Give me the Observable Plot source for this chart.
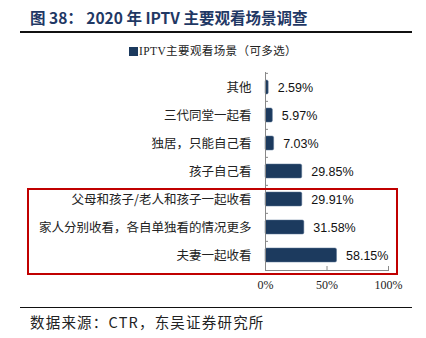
<!DOCTYPE html>
<html>
<head>
<meta charset="utf-8">
<script src="https://cdn.jsdelivr.net/npm/d3@7"></script>
<script src="https://cdn.jsdelivr.net/npm/@observablehq/plot@0.6"></script>
<style>
  html, body { margin: 0; padding: 0; background: #fff; }
  body { width: 426px; height: 338px; position: relative; overflow: hidden; font-family: "Noto Sans CJK SC", sans-serif; }
  .abs { position: absolute; }
  #title { left: 30px; top: 6px; font-size: 15.5px; font-weight: bold; color: #1f3864; white-space: nowrap; line-height: 22px; }
  #rule1 { left: 20px; top: 31px; width: 392px; height: 0; border-top: 2px solid #111; }
  #legend { left: 0; width: 426px; top: 43px; text-align: center; font-family: "Liberation Serif", "Noto Sans CJK SC", serif; font-size: 11.5px; color: #222; line-height: 16px; white-space: nowrap; letter-spacing: 0.4px; }
  #legend .sw { display: inline-block; width: 9px; height: 9px; background: #1c3a5e; margin-right: 1px; vertical-align: -1px; }
  #chart { left: 0; top: 60px; }
  #box { left: 27px; top: 188px; width: 371px; height: 87px; border: 2px solid #c00000; box-sizing: border-box; }
  #rule2 { left: 20px; top: 307px; width: 392px; height: 0; border-top: 1.5px solid #111; }
  #footer { left: 30px; top: 312px; font-size: 14.5px; color: #222; white-space: nowrap; line-height: 20px; letter-spacing: 1.2px; }
</style>
</head>
<body>
<div id="title" class="abs">图 38： 2020 年 IPTV 主要观看场景调查</div>
<div id="rule1" class="abs"></div>
<div id="legend" class="abs"><span class="sw"></span>IPTV主要观看场景（可多选）</div>
<div id="chart" class="abs"></div>
<div id="box" class="abs"></div>
<div id="rule2" class="abs"></div>
<div id="footer" class="abs">数据来源：CTR，东吴证券研究所</div>
<script>
const categories = ["其他", "三代同堂一起看", "独居，只能自己看", "孩子自己看", "父母和孩子/老人和孩子一起收看", "家人分别收看，各自单独看的情况更多", "夫妻一起收看"];
const values = [2.59, 5.97, 7.03, 29.85, 29.91, 31.58, 58.15];
const xTicks = [0, 50, 100];

const data = categories.map((c, i) => ({category: c, value: values[i]}));

const W = 426, H = 240, mt = 12, mb = 30, ml = 265, mr = 38;
const step = (H - mt - mb) / categories.length;

const chart = Plot.plot({
  width: W,
  height: H,
  marginTop: mt,
  marginBottom: mb,
  marginLeft: ml,
  marginRight: mr,
  style: {fontFamily: "Noto Sans CJK SC, sans-serif", fontSize: "12.5px", color: "#333", background: "transparent"},
  x: {domain: [0, 100]},
  y: {domain: categories, paddingInner: 0.5, paddingOuter: 0.25},
  marks: [
    Plot.barX(data, {y: "category", x: "value", fill: "#1c3a5e", stroke: "#5a7595", strokeWidth: 0.5, rx: 1.5}),
    Plot.text(data, {y: "category", x: "value", text: d => d.value.toFixed(2) + "%", textAnchor: "start", dx: 9, fontFamily: "Liberation Sans, Arial, sans-serif", fontSize: 12.5, fill: "#111"}),
    Plot.axisY({tickSize: 0, tickPadding: 14, label: null, fill: "#222", fontSize: 12.5, fontFamily: "Noto Sans CJK SC, sans-serif"}),
    Plot.axisY({tickSize: -3, tickFormat: () => "", label: null, dy: -step / 2, stroke: "#888"}),
    Plot.ruleX([0], {stroke: "#888", strokeWidth: 1}),
    Plot.axisX({ticks: xTicks, tickSize: -4, tickPadding: 14, tickFormat: d => d + "%", label: null, stroke: "#888", fill: "#222", fontSize: 12, fontFamily: "Liberation Serif, Times New Roman, serif"}),
    Plot.frame({anchor: "bottom", stroke: "#888"})
  ]
});
document.getElementById("chart").appendChild(chart);
</script>
</body>
</html>
